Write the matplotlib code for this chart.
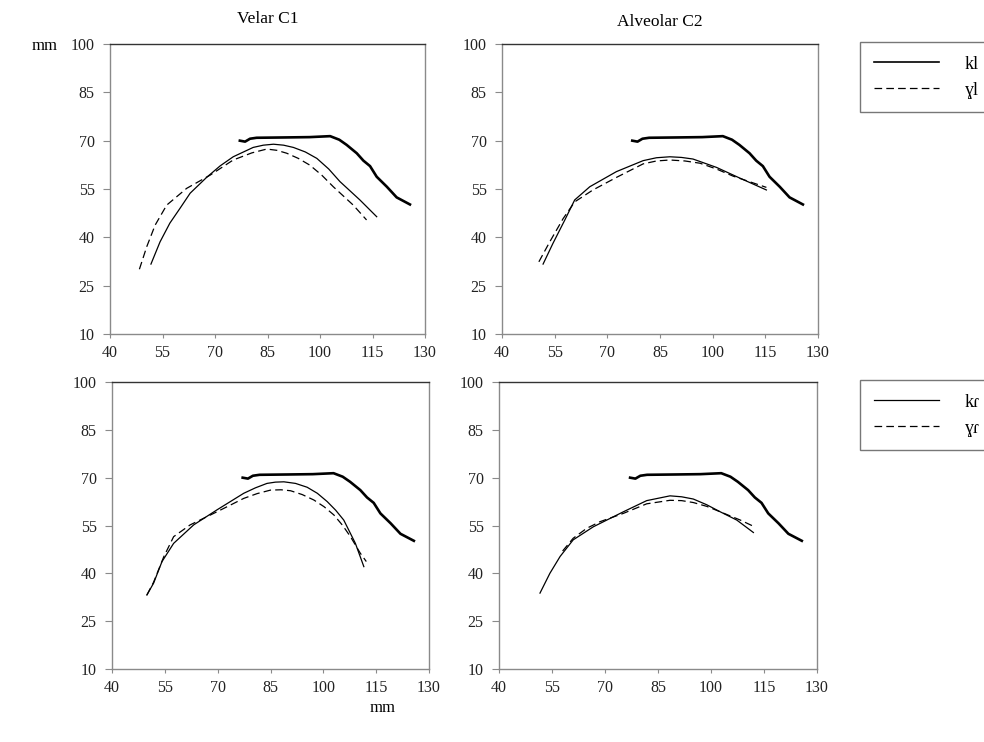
import matplotlib
matplotlib.use("Agg")
import matplotlib.pyplot as plt
from matplotlib.lines import Line2D

plt.rcParams['font.family'] = ['Liberation Serif', 'DejaVu Serif']
plt.rcParams['lines.scale_dashes'] = False

# palate trace (same in every panel)
palate_x = [77.1, 78.6, 80.0, 81.9, 90.0, 97.0, 102.9, 105.5, 107.6, 110.5, 112.4, 114.3, 116.2, 119.1, 121.9, 125.7]
palate_y = [70.0, 69.7, 70.6, 70.9, 71.0, 71.1, 71.4, 70.3, 68.7, 66.1, 63.8, 62.1, 58.8, 55.7, 52.4, 50.2]

# Velar C1, lateral context
velar_kl_x = [51.7, 54.3, 57.1, 60.0, 62.9, 67.6, 71.5, 75.2, 80.9, 83.8, 86.7, 89.6, 92.4, 95.8, 99.1, 102.5, 105.7, 111.4, 116.2]
velar_kl_y = [31.7, 38.6, 44.4, 49.0, 53.7, 58.6, 62.2, 65.0, 67.9, 68.6, 68.9, 68.6, 67.9, 66.5, 64.5, 61.2, 57.3, 51.6, 46.4]
velar_gl_x = [48.4, 50.5, 52.9, 56.2, 61.9, 68.6, 75.2, 80.5, 84.8, 87.7, 90.5, 93.8, 97.1, 100.5, 103.8, 109.5, 113.3]
velar_gl_y = [30.1, 37.1, 43.8, 50.0, 55.2, 59.3, 64.0, 66.2, 67.4, 67.0, 66.1, 64.5, 62.4, 59.3, 55.7, 50.0, 45.4]

# Alveolar C2, lateral context
alv_kl_x = [51.7, 54.5, 57.9, 60.7, 65.0, 72.6, 80.2, 84.0, 87.8, 91.1, 94.4, 101.1, 107.7, 115.3]
alv_kl_y = [31.7, 38.1, 45.4, 51.6, 55.7, 60.4, 63.8, 64.7, 65.0, 64.8, 64.3, 61.7, 58.4, 54.7]
alv_gl_x = [50.5, 53.6, 57.4, 60.7, 65.9, 72.6, 80.2, 84.0, 87.8, 92.1, 96.4, 101.1, 105.8, 115.3]
alv_gl_y = [32.4, 38.6, 45.8, 51.0, 54.7, 58.6, 62.8, 63.7, 64.0, 63.7, 63.0, 61.2, 59.0, 55.5]

# Velar C1, rhotic context
velar_kr_x = [49.9, 51.8, 54.2, 57.5, 63.2, 69.8, 77.4, 80.7, 84.0, 86.4, 88.8, 92.1, 95.4, 98.3, 101.1, 103.5, 105.8, 109.1, 111.5]
velar_kr_y = [33.2, 36.9, 43.7, 49.4, 55.2, 59.9, 65.1, 66.8, 68.2, 68.6, 68.7, 68.2, 67.0, 65.1, 62.5, 59.8, 56.7, 49.4, 42.1]
velar_gr_x = [49.9, 51.8, 54.7, 57.5, 62.2, 69.8, 77.4, 81.2, 85.0, 88.0, 90.7, 94.0, 97.3, 100.2, 103.0, 105.5, 107.7, 110.5, 112.2]
velar_gr_y = [33.2, 37.2, 45.2, 51.5, 55.2, 59.3, 63.5, 65.0, 66.1, 66.2, 65.9, 64.7, 63.0, 60.9, 58.3, 55.0, 51.5, 46.3, 43.7]

# Alveolar C2, rhotic context
alv_kr_x = [51.6, 54.4, 57.3, 61.0, 66.7, 75.2, 81.8, 88.4, 91.7, 95.0, 98.8, 102.6, 107.3, 112.0]
alv_kr_y = [33.8, 40.0, 45.3, 50.5, 54.6, 59.3, 62.8, 64.3, 64.0, 63.3, 61.5, 59.3, 56.7, 52.8]
alv_gr_x = [58.0, 61.0, 64.8, 68.6, 75.2, 81.8, 88.4, 91.7, 95.0, 98.8, 102.6, 108.3, 112.5]
alv_gr_y = [47.0, 51.0, 54.1, 56.2, 58.8, 61.8, 62.9, 62.8, 62.2, 61.0, 59.3, 56.7, 54.5]

x_ticks = [40, 55, 70, 85, 100, 115, 130]
y_ticks = [10, 25, 40, 55, 70, 85, 100]

W, H = 984, 742
fig = plt.figure(figsize=(W / 100, H / 100), dpi=100)

# axes boxes in pixels: left, right, top, bottom
boxes = [(110, 425, 44, 334), (502, 818, 44, 334),
         (112, 429, 382, 669), (499, 817, 382, 669)]
panels = [
    (velar_kl_x, velar_kl_y, velar_gl_x, velar_gl_y),
    (alv_kl_x, alv_kl_y, alv_gl_x, alv_gl_y),
    (velar_kr_x, velar_kr_y, velar_gr_x, velar_gr_y),
    (alv_kr_x, alv_kr_y, alv_gr_x, alv_gr_y),
]

spine_col = '#8a8a8a'
dash = (0, (5.5, 3.0))
axes = []
for (l, r, t, b), (sx, sy, dx, dy) in zip(boxes, panels):
    ax = fig.add_axes([l / W, 1 - b / H, (r - l) / W, (b - t) / H])
    ax.plot(palate_x, palate_y, color='black', lw=1.9)
    ax.plot(sx, sy, color='black', lw=0.9)
    ax.plot(dx, dy, color='black', lw=0.9, linestyle=dash)
    ax.set_xlim(40, 130)
    ax.set_ylim(10, 100)
    ax.set_xticks(x_ticks)
    ax.set_yticks(y_ticks)
    for s in ax.spines.values():
        s.set_color(spine_col)
        s.set_linewidth(1.0)
    ax.spines['top'].set_color('#333333')
    ax.tick_params(direction='out', width=0.8, color=spine_col,
                   labelsize=11.5, labelcolor='#222222')
    ax.tick_params(axis='x', length=3, pad=5)
    ax.tick_params(axis='y', length=5, pad=6)
    axes.append(ax)

axes[0].set_title('Velar C1', fontsize=12.5, pad=15)
axes[1].set_title('Alveolar C2', fontsize=12.5, pad=13)
fig.text(45 / W, 1 - 46 / H, 'mm', fontsize=12, ha='center', va='center')
fig.text(383 / W, 1 - 708 / H, 'mm', fontsize=12, ha='center', va='center')

leg_kw = dict(loc='upper left', frameon=True, fancybox=False, fontsize=13,
              handlelength=3.6, handletextpad=1.45, borderpad=0.75,
              labelspacing=0.5, borderaxespad=0)
h1 = [Line2D([], [], color='black', lw=1.2), Line2D([], [], color='black', lw=0.9, linestyle=dash)]
leg1 = fig.legend(h1, ['kl', 'ɣl'], bbox_to_anchor=(860 / W, 1 - 42 / H), **leg_kw)
h2 = [Line2D([], [], color='black', lw=0.9), Line2D([], [], color='black', lw=0.9, linestyle=dash)]
leg2 = fig.legend(h2, ['kɾ', 'ɣɾ'], bbox_to_anchor=(860 / W, 1 - 380 / H), **leg_kw)
for lg in (leg1, leg2):
    lg.get_frame().set_edgecolor('#555555')
    lg.get_frame().set_linewidth(1.0)

fig.savefig('out.png', dpi=100)
